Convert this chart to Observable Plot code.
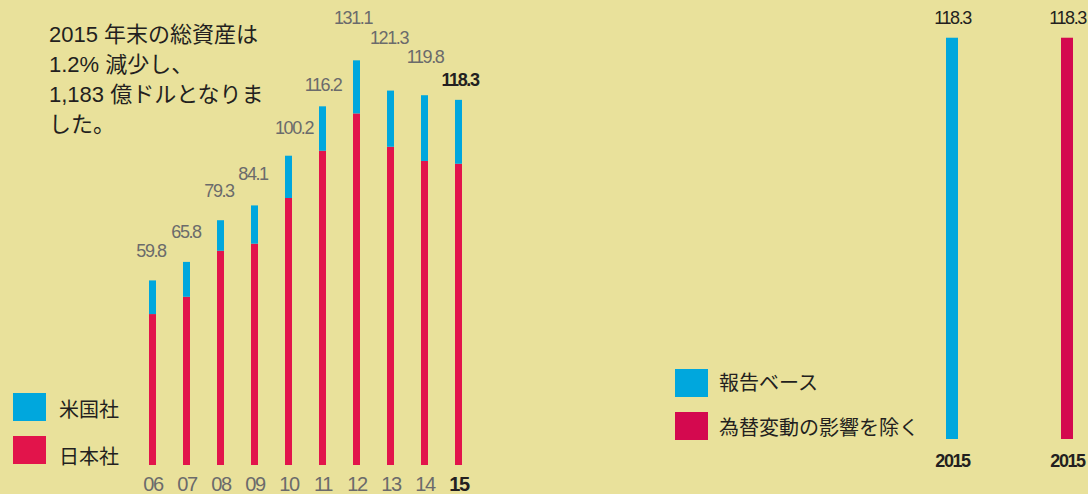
<!DOCTYPE html>
<html><head><meta charset="utf-8">
<script src="https://cdn.jsdelivr.net/npm/d3@7"></script>
<script src="https://cdn.jsdelivr.net/npm/@observablehq/plot@0.6"></script>
<style>
html,body{margin:0;padding:0;background:#E9E19B;}
#root{position:relative;width:1088px;height:494px;overflow:hidden;background:#E9E19B;}
#left,#right{position:absolute;top:0;}
#left{left:0;} #right{left:880px;}
.title{position:absolute;left:49px;top:20px;font-family:"Liberation Sans","Noto Sans CJK JP",sans-serif;font-size:22px;line-height:30px;color:#231f20;white-space:nowrap;}
.sw{position:absolute;width:33px;height:28px;}
.lab{position:absolute;font-family:"Noto Sans CJK JP",sans-serif;font-size:20px;line-height:28px;color:#231f20;white-space:nowrap;}
</style></head>
<body>
<div id="root">
  <div id="left"></div>
  <div id="right"></div>
  <div class="title">2015 年末の総資産は<br>1.2% 減少し、<br>1,183 億ドルとなりま<br>した。</div>
  <div class="sw" id="sw1" style="left:13px;top:393px;"></div>
  <div class="lab" id="lab1" style="left:59px;top:395px;"></div>
  <div class="sw" id="sw2" style="left:13px;top:436px;"></div>
  <div class="lab" id="lab2" style="left:59px;top:442px;"></div>
  <div class="sw" id="sw3" style="left:675px;top:369px;"></div>
  <div class="lab" id="lab3" style="left:719px;top:368px;"></div>
  <div class="sw" id="sw4" style="left:675px;top:412px;"></div>
  <div class="lab" id="lab4" style="left:719px;top:413px;"></div>
</div>
<script>
// ---- data ----
const years = ["06","07","08","09","10","11","12","13","14","15"];
const companies = ["米国社","日本社"];
const totals = [59.8, 65.8, 79.3, 84.1, 100.2, 116.2, 131.1, 121.3, 119.8, 118.3];
const japan = [48.9, 54.5, 69.4, 71.7, 86.5, 101.8, 113.9, 103.1, 98.5, 97.6];
const us = [10.9, 11.3, 9.9, 12.4, 13.7, 14.4, 17.2, 18.2, 21.3, 20.7];
const rightSeries = ["報告ベース","為替変動の影響を除く"];
const rightValues = [118.3, 118.3];
const rightYear = "2015";

// ---- style ----
const BLUE = "#00A7DD", RED = "#E2144B", RED2 = "#D4094F";
const NUM = "'Liberation Sans',Arial,sans-serif";
const GRAY = "#6b6b6b", DARK = "#231f20";
const lift = [-30,-30,-29,-32,-28,-22,-43,-53,-38,-20];
const shift = [-2,-1,-2,-2,5,0,-4,-2,0,1];

document.getElementById("sw1").style.background = BLUE;
document.getElementById("sw2").style.background = RED;
document.getElementById("sw3").style.background = BLUE;
document.getElementById("sw4").style.background = RED2;
document.getElementById("lab1").textContent = companies[0];
document.getElementById("lab2").textContent = companies[1];
document.getElementById("lab3").textContent = rightSeries[0];
document.getElementById("lab4").textContent = rightSeries[1];

const rows = [];
years.forEach((y, i) => {
  rows.push({year: y, company: "日本社", value: japan[i]});
  rows.push({year: y, company: "米国社", value: us[i]});
});
const totalRows = years.map((y, i) => ({year: y, total: totals[i]}));

const labelMarks = totalRows.map((d, i) => Plot.text([d], {
  x: "year", y: "total", text: r => r.total.toFixed(1),
  dy: lift[i], dx: shift[i],
  fill: i === years.length - 1 ? DARK : GRAY,
  fontWeight: i === years.length - 1 ? "bold" : "normal",
  fontSize: 18,
  fontFamily: NUM
}));

const left = Plot.plot({
  width: 500, height: 494,
  marginLeft: 122, marginRight: 11, marginTop: 2, marginBottom: 29,
  style: {background: "transparent", overflow: "visible", letterSpacing: "-1.4px"},
  x: {type: "band", domain: years, padding: 0.794, axis: null},
  y: {domain: [0, 150], axis: null},
  color: {domain: companies, range: [BLUE, RED]},
  marks: [
    Plot.barY(rows, {x: "year", y: "value", fill: "company", order: ["日本社","米国社"], inset: 0}),
    ...labelMarks,
    Plot.text(years.slice(0, -1), {x: d => d, text: d => d, frameAnchor: "bottom", lineAnchor: "top", dy: 11, fill: GRAY, fontSize: 20, fontFamily: NUM}),
    Plot.text(years.slice(-1), {x: d => d, text: d => d, frameAnchor: "bottom", lineAnchor: "top", dy: 11, fill: DARK, fontWeight: "bold", fontSize: 20, fontFamily: NUM})
  ]
});
document.getElementById("left").appendChild(left);

const rightRows = rightSeries.map((s, i) => ({series: s, value: rightValues[i]}));
const right = Plot.plot({
  width: 208, height: 494,
  marginLeft: 66, marginRight: 15, marginTop: 15, marginBottom: 55,
  style: {background: "transparent", overflow: "visible", letterSpacing: "-1.4px"},
  x: {type: "band", domain: rightSeries, paddingInner: 0.8957, paddingOuter: 0, axis: null},
  y: {domain: [0, 125], axis: null},
  color: {domain: rightSeries, range: [BLUE, RED2]},
  marks: [
    Plot.barY(rightRows, {x: "series", y: "value", fill: "series", inset: 0}),
    Plot.text(rightRows, {x: "series", y: "value", text: d => d.value.toFixed(1), dy: -20, fill: DARK, fontSize: 18, fontFamily: NUM}),
    Plot.text(rightSeries, {x: d => d, text: () => rightYear, frameAnchor: "bottom", lineAnchor: "top", dy: 15, fill: DARK, fontWeight: "bold", fontSize: 18, fontFamily: NUM})
  ]
});
document.getElementById("right").appendChild(right);
</script>
</body></html>
